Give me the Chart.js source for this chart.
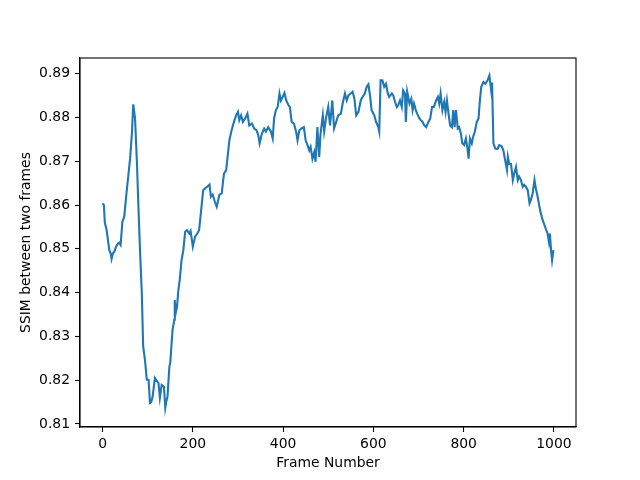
<!DOCTYPE html>
<html>
<head>
<meta charset="utf-8">
<script src="https://cdn.jsdelivr.net/npm/chart.js@4/dist/chart.umd.min.js"></script>
<style>
  html, body { margin: 0; padding: 0; background: #ffffff; }
  canvas { display: block; }
</style>
</head>
<body>
<canvas id="c" width="640" height="480"></canvas>
<script>
// Frame numbers (x) and SSIM values (y)
const frames = [
  0, 3, 5, 9, 12, 15, 18, 20, 23, 26, 30, 34, 37, 40, 44, 48, 53, 58, 61, 65,
  68, 72, 76, 79, 83, 87, 90, 94, 98, 102, 105, 108, 111, 116, 119, 124, 127, 131, 136, 139,
  141, 144, 148, 150, 155, 159, 160, 162, 165, 168, 171, 175, 179, 183, 187, 192, 195, 200, 205, 210,
  214, 220, 223, 228, 232, 237, 240, 244, 249, 253, 259, 264, 269, 274, 277, 281, 285, 290, 296, 300,
  303, 307, 311, 316, 321, 325, 331, 336, 341, 345, 348, 353, 358, 362, 367, 373, 377, 380, 384, 388,
  392, 395, 399, 403, 407, 412, 415, 419, 424, 429, 432, 436, 441, 446, 450, 454, 458, 461, 465, 469,
  472, 476, 480, 483, 488, 491, 495, 500, 504, 509, 513, 517, 522, 528, 532, 537, 541, 545, 550, 554,
  558, 562, 567, 572, 576, 581, 585, 589, 593, 596, 602, 606, 611, 613, 616, 620, 624, 628, 632, 635,
  641, 644, 648, 652, 655, 659, 663, 666, 670, 672, 675, 680, 684, 687, 690, 694, 697, 702, 705, 709,
  713, 717, 722, 726, 730, 734, 739, 743, 746, 749, 753, 757, 760, 763, 766, 770, 774, 777, 780, 783,
  787, 790, 794, 797, 801, 805, 808, 811, 814, 818, 821, 825, 829, 833, 836, 839, 844, 848, 853, 857,
  861, 863, 866, 870, 875, 879, 884, 888, 892, 896, 898, 901, 905, 909, 912, 916, 920, 923, 927, 931,
  934, 938, 942, 946, 949, 953, 957, 960, 964, 968, 971, 975, 979, 983, 986, 989, 991, 994, 996, 999
];
const ssim = [
  0.8604, 0.8600, 0.8560, 0.8543, 0.8520, 0.8497, 0.8490, 0.8477, 0.8490, 0.8493, 0.8505, 0.8512, 0.8514, 0.8509, 0.8562, 0.8573, 0.8627, 0.8676, 0.8706, 0.8763,
  0.8830, 0.8798, 0.8702, 0.8611, 0.8497, 0.8398, 0.8277, 0.8246, 0.8201, 0.8201, 0.8148, 0.8150, 0.8163, 0.8205, 0.8200, 0.8193, 0.8160, 0.8189, 0.8185, 0.8137,
  0.8150, 0.8163, 0.8231, 0.8239, 0.8315, 0.8338, 0.8383, 0.8353, 0.8368, 0.8406, 0.8429, 0.8474, 0.8497, 0.8539, 0.8543, 0.8535, 0.8541, 0.8505, 0.8528, 0.8535,
  0.8543, 0.8604, 0.8634, 0.8639, 0.8642, 0.8647, 0.8619, 0.8624, 0.8607, 0.8596, 0.8624, 0.8627, 0.8672, 0.8680, 0.8710, 0.8748, 0.8767, 0.8786, 0.8805, 0.8813,
  0.8794, 0.8805, 0.8790, 0.8798, 0.8809, 0.8782, 0.8786, 0.8775, 0.8771, 0.8760, 0.8741, 0.8763, 0.8775, 0.8768, 0.8778, 0.8768, 0.8752, 0.8798, 0.8817, 0.8824,
  0.8855, 0.8839, 0.8847, 0.8856, 0.8839, 0.8828, 0.8824, 0.8790, 0.8786, 0.8767, 0.8748, 0.8771, 0.8775, 0.8778, 0.8748, 0.8737, 0.8725, 0.8733, 0.8706, 0.8721,
  0.8699, 0.8778, 0.8710, 0.8763, 0.8805, 0.8768, 0.8798, 0.8824, 0.8782, 0.8839, 0.8775, 0.8788, 0.8805, 0.8809, 0.8832, 0.8855, 0.8839, 0.8851, 0.8855, 0.8859,
  0.8843, 0.8805, 0.8813, 0.8839, 0.8847, 0.8855, 0.8870, 0.8876, 0.8847, 0.8817, 0.8805, 0.8790, 0.8778, 0.8768, 0.8885, 0.8885, 0.8870, 0.8877, 0.8855, 0.8847,
  0.8855, 0.8851, 0.8836, 0.8824, 0.8828, 0.8839, 0.8824, 0.8862, 0.8855, 0.8790, 0.8859, 0.8832, 0.8843, 0.8817, 0.8832, 0.8817, 0.8809, 0.8798, 0.8794, 0.8790,
  0.8782, 0.8778, 0.8790, 0.8798, 0.8824, 0.8824, 0.8839, 0.8847, 0.8832, 0.8855, 0.8817, 0.8836, 0.8813, 0.8839, 0.8813, 0.8782, 0.8778, 0.8817, 0.8778, 0.8817,
  0.8775, 0.8778, 0.8763, 0.8741, 0.8737, 0.8752, 0.8733, 0.8706, 0.8752, 0.8741, 0.8756, 0.8768, 0.8790, 0.8798, 0.8839, 0.8870, 0.8881, 0.8877, 0.8885, 0.8896,
  0.8862, 0.8880, 0.8741, 0.8729, 0.8728, 0.8737, 0.8735, 0.8725, 0.8702, 0.8680, 0.8710, 0.8694, 0.8694, 0.8657, 0.8672, 0.8687, 0.8657, 0.8665, 0.8657, 0.8642,
  0.8646, 0.8642, 0.8634, 0.8604, 0.8612, 0.8627, 0.8657, 0.8638, 0.8619, 0.8596, 0.8581, 0.8566, 0.8555, 0.8543, 0.8535, 0.8516, 0.8535, 0.8493, 0.8474, 0.8497
];
const xTicks = [0, 200, 400, 600, 800, 1000];
const yTicks = [0.81, 0.82, 0.83, 0.84, 0.85, 0.86, 0.87, 0.88, 0.89];
const xLabel = 'Frame Number';
const yLabel = 'SSIM between two frames';

const points = frames.map((f, i) => ({ x: f, y: ssim[i] }));

const FONT = { family: '"DejaVu Sans", sans-serif', size: 13.9 };

const framePlugin = {
  id: 'frame',
  afterDatasetsDraw(chart) {
    const a = chart.chartArea;
    const ctx = chart.ctx;
    ctx.save();
    ctx.strokeStyle = '#000000';
    ctx.lineWidth = 1.1;
    ctx.strokeRect(a.left, a.top, a.right - a.left, a.bottom - a.top);
    ctx.restore();
  }
};

new Chart(document.getElementById('c'), {
  type: 'line',
  data: {
    datasets: [{
      data: points,
      borderColor: '#1f77b4',
      borderWidth: 2.1,
      pointRadius: 0,
      tension: 0,
      fill: false
    }]
  },
  options: {
    responsive: false,
    animation: false,
    devicePixelRatio: 1,
    layout: { padding: { top: 58, right: 64, left: 0, bottom: 0 } },
    plugins: { legend: { display: false }, tooltip: { enabled: false } },
    scales: {
      x: {
        type: 'linear',
        min: -49.95,
        max: 1048.95,
        afterBuildTicks: s => { s.ticks = xTicks.map(v => ({ value: v })); },
        afterFit: s => { s.height = 53; },
        grid: { drawOnChartArea: false, drawTicks: true, tickLength: 5, tickColor: '#000000', tickWidth: 1.1 },
        border: { display: true, color: '#000000', width: 1.1 },
        ticks: { color: '#000000', font: FONT, padding: 4, maxRotation: 0, callback: v => String(v) },
        title: { display: true, text: xLabel, color: '#000000', font: FONT, padding: { top: 0, bottom: 8 } }
      },
      y: {
        type: 'linear',
        min: 0.8093,
        max: 0.8936,
        afterBuildTicks: s => { s.ticks = yTicks.map(v => ({ value: v })); },
        afterFit: s => { s.width = 80; },
        grid: { drawOnChartArea: false, drawTicks: true, tickLength: 5, tickColor: '#000000', tickWidth: 1.1 },
        border: { display: true, color: '#000000', width: 1.1 },
        ticks: { color: '#000000', font: FONT, padding: 5, callback: v => Number(v).toFixed(2) },
        title: { display: true, text: yLabel, color: '#000000', font: FONT, padding: { top: 18, bottom: 0 } }
      }
    }
  },
  plugins: [framePlugin]
});
</script>
</body>
</html>
